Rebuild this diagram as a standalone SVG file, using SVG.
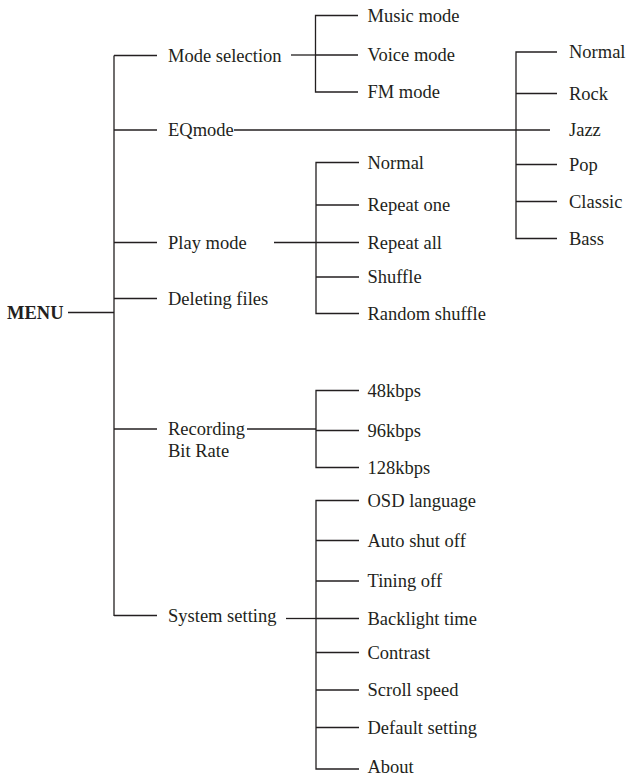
<svg xmlns="http://www.w3.org/2000/svg" width="629" height="777" viewBox="0 0 629 777">
<style>
.t{font-family:"Liberation Serif","Times New Roman",serif;font-size:18.5px;fill:#231f20}
.b{font-weight:bold}
.c line,.c path{stroke:#231f20;stroke-width:1.3;fill:none}
</style>
<rect width="629" height="777" fill="#fff"/>
<g class="c" id="connectors">
<line x1="68" y1="312.5" x2="114" y2="312.5"/>
<line x1="114" y1="55.5" x2="114" y2="616"/>
<line x1="114" y1="55.5" x2="157" y2="55.5"/>
<line x1="114" y1="130" x2="157" y2="130"/>
<line x1="114" y1="242.5" x2="157" y2="242.5"/>
<line x1="114" y1="298.5" x2="157" y2="298.5"/>
<line x1="114" y1="429" x2="157" y2="429"/>
<line x1="114" y1="615.5" x2="157" y2="615.5"/>
<line x1="291" y1="55" x2="315.5" y2="55"/>
<path d="M358 15.5H315.5V92H358M315.5 55H358"/>
<line x1="234" y1="130" x2="550" y2="130"/>
<path d="M557 52H516V238.5H557M516 93.5H557M516 164.5H557M516 201.5H557"/>
<line x1="274" y1="242.5" x2="316" y2="242.5"/>
<path d="M359 162.5H316V313.5H359M316 205H359M316 242.5H359M316 277H359"/>
<line x1="247" y1="429" x2="316" y2="429"/>
<path d="M359 390.5H316V467.5H359M316 430.5H359"/>
<line x1="286" y1="618.5" x2="316" y2="618.5"/>
<path d="M359 500.5H316V769H359M316 540.5H359M316 581H359M316 618.5H359M316 652.5H359M316 690H359M316 727.5H359"/>
</g>
<g id="menu"><text class="t b" x="7" y="318.5">MENU</text></g>
<g id="mode-selection"><text class="t" x="168" y="61.5">Mode selection</text></g>
<g id="eqmode"><text class="t" x="168" y="136">EQmode</text></g>
<g id="play-mode"><text class="t" x="168" y="248.5">Play mode</text></g>
<g id="deleting-files"><text class="t" x="168" y="304.5">Deleting files</text></g>
<g id="recording"><text class="t" x="168" y="434.5">Recording</text><text class="t" x="168" y="457">Bit Rate</text></g>
<g id="system-setting"><text class="t" x="168" y="621.5">System setting</text></g>
<g id="music-mode"><text class="t" x="367.5" y="21.5">Music mode</text></g>
<g id="voice-mode"><text class="t" x="367.5" y="61">Voice mode</text></g>
<g id="fm-mode"><text class="t" x="367.5" y="98">FM mode</text></g>
<g id="eq-normal"><text class="t" x="569" y="58">Normal</text></g>
<g id="eq-rock"><text class="t" x="569" y="99.5">Rock</text></g>
<g id="eq-jazz"><text class="t" x="569" y="136">Jazz</text></g>
<g id="eq-pop"><text class="t" x="569" y="170.5">Pop</text></g>
<g id="eq-classic"><text class="t" x="569" y="207.5">Classic</text></g>
<g id="eq-bass"><text class="t" x="569" y="244.5">Bass</text></g>
<g id="play-normal"><text class="t" x="367.5" y="168.5">Normal</text></g>
<g id="repeat-one"><text class="t" x="367.5" y="211">Repeat one</text></g>
<g id="repeat-all"><text class="t" x="367.5" y="248.5">Repeat all</text></g>
<g id="shuffle"><text class="t" x="367.5" y="283">Shuffle</text></g>
<g id="random-shuffle"><text class="t" x="367.5" y="319.5">Random shuffle</text></g>
<g id="k48"><text class="t" x="367.5" y="396.5">48kbps</text></g>
<g id="k96"><text class="t" x="367.5" y="436.5">96kbps</text></g>
<g id="k128"><text class="t" x="367.5" y="473.5">128kbps</text></g>
<g id="osd"><text class="t" x="367.5" y="506.5">OSD language</text></g>
<g id="auto-shut"><text class="t" x="367.5" y="546.5">Auto shut off</text></g>
<g id="tining"><text class="t" x="367.5" y="587">Tining off</text></g>
<g id="backlight"><text class="t" x="367.5" y="624.5">Backlight time</text></g>
<g id="contrast"><text class="t" x="367.5" y="658.5">Contrast</text></g>
<g id="scroll"><text class="t" x="367.5" y="696">Scroll speed</text></g>
<g id="default"><text class="t" x="367.5" y="733.5">Default setting</text></g>
<g id="about"><text class="t" x="367.5" y="773">About</text></g>
</svg>
